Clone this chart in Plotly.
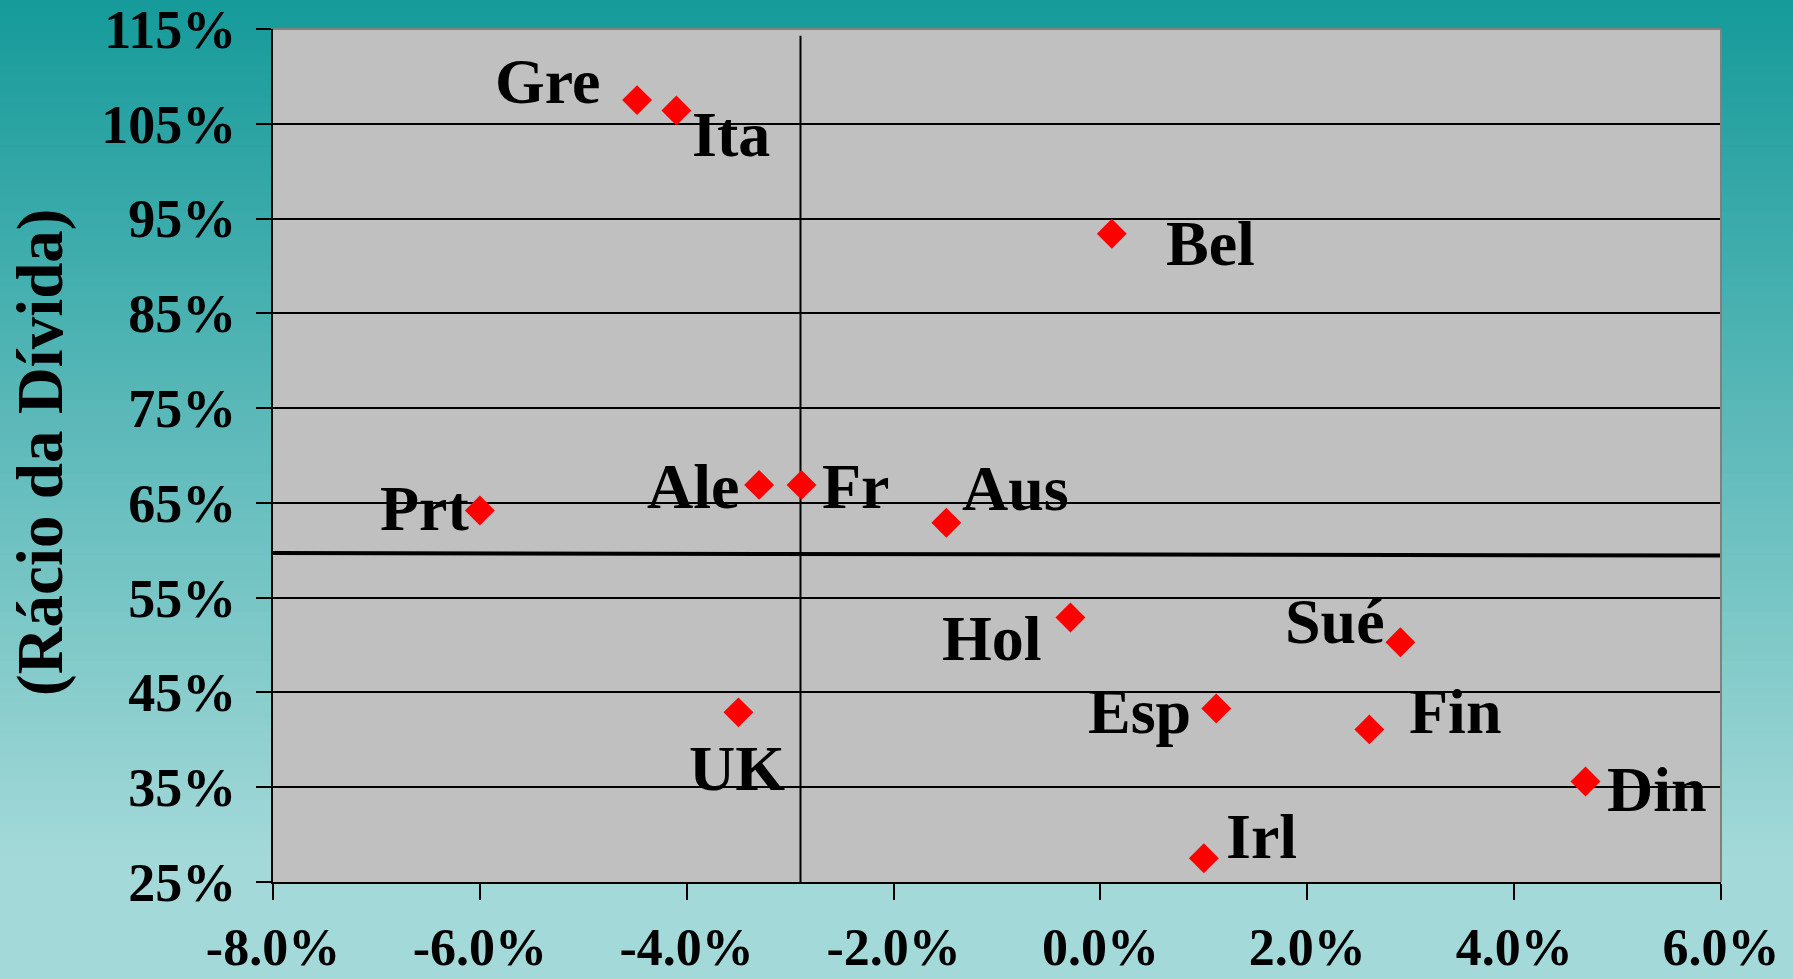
import plotly.graph_objects as go

# ---------------- data ----------------
countries = ["Gre", "Ita", "Bel", "Prt", "Ale", "Fr", "Aus", "Hol", "Sué", "UK", "Esp", "Fin", "Din", "Irl"]
saldo = [-4.48, -4.10, 0.11, -6.00, -3.30, -2.89, -1.49, -0.29, 2.90, -3.50, 1.12, 2.60, 4.69, 1.00]
divida = [107.5, 106.4, 93.4, 64.2, 66.9, 66.9, 62.9, 52.9, 50.3, 42.9, 43.3, 41.1, 35.6, 27.5]

ref_v_x = [-2.9, -2.9]
ref_v_y = [25.0, 114.3]
ref_h_x = [-8.0, 6.0]
ref_h_y = [59.7, 59.45]

x_tick_vals = [-8, -6, -4, -2, 0, 2, 4, 6]
x_tick_text = ["-8.0%", "-6.0%", "-4.0%", "-2.0%", "0.0%", "2.0%", "4.0%", "6.0%"]
y_tick_vals = [25, 35, 45, 55, 65, 75, 85, 95, 105, 115]
y_tick_text = ["25%", "35%", "45%", "55%", "65%", "75%", "85%", "95%", "105%", "115%"]
y_title = "(Rácio da Dívida)"

# ---------------- style ----------------
W, H = 1793, 979
L, R, T, B = 273, 72, 29, 97
PW, PH = W - L - R, H - T - B
FONT = "Liberation Serif, Times New Roman, serif"

# label offsets in pixels (dx right, dy up)
label_offsets = {
    "Gre": (-90, 19), "Ita": (55, -24), "Bel": (99, -10), "Prt": (-55, 2),
    "Ale": (-66, -2), "Fr": (54, -2), "Aus": (69, 34), "Hol": (-78, -21),
    "Sué": (-65, 21), "UK": (-1, -56), "Esp": (-77, -3), "Fin": (86, 18),
    "Din": (71, -8), "Irl": (58, 22),
}

def px2paper_x(px):
    return (px - L) / PW

def px2paper_y(py):
    return (H - B - py) / PH

top_c = (22, 154, 154)
bot_c = (164, 217, 217)
shapes = []
n = 120
for i in range(n):
    y0 = H * i / n
    y1 = H * (i + 1) / n + 1
    if i == 0:
        y0 = -20
    if i == n - 1:
        y1 = H + 20
    t = min(1.0, max(0.0, ((y0 + y1) / 2) / (H * 0.88)))
    c = tuple(int(round(top_c[k] + (bot_c[k] - top_c[k]) * t)) for k in range(3))
    shapes.append(dict(type="rect", xref="paper", yref="paper", layer="below",
                       x0=px2paper_x(-20), x1=px2paper_x(W + 20),
                       y0=px2paper_y(y1), y1=px2paper_y(y0),
                       line=dict(width=0), fillcolor="rgb(%d,%d,%d)" % c))
# plot area fill
shapes.append(dict(type="rect", xref="paper", yref="paper", layer="below",
                   x0=0, x1=1, y0=0, y1=1, line=dict(width=0), fillcolor="#c0c0c0"))
# gray border top / right
shapes.append(dict(type="line", xref="paper", yref="paper", layer="above",
                   x0=0, x1=1, y0=1, y1=1, line=dict(color="#808080", width=2)))
shapes.append(dict(type="line", xref="paper", yref="paper", layer="above",
                   x0=1, x1=1, y0=0, y1=1, line=dict(color="#808080", width=2)))

fig = go.Figure()
fig.add_trace(go.Scatter(x=ref_v_x, y=ref_v_y, mode="lines",
                         line=dict(color="black", width=2), showlegend=False, hoverinfo="skip"))
fig.add_trace(go.Scatter(x=ref_h_x, y=ref_h_y, mode="lines",
                         line=dict(color="black", width=4), showlegend=False, hoverinfo="skip"))
fig.add_trace(go.Scatter(x=saldo, y=divida, mode="markers", text=countries,
                         marker=dict(symbol="diamond", size=23, color="#ff0000",
                                     line=dict(width=0)),
                         showlegend=False, cliponaxis=False))

annotations = []
for c, xv, yv in zip(countries, saldo, divida):
    dx, dy = label_offsets[c]
    annotations.append(dict(x=xv, y=yv, xref="x", yref="y", text="<b>%s</b>" % c,
                            showarrow=False, xshift=dx, yshift=dy,
                            xanchor="center", yanchor="middle",
                            font=dict(family=FONT, size=64, color="black")))
annotations.append(dict(x=px2paper_x(40), y=px2paper_y(452), xref="paper", yref="paper",
                        text="<b>%s</b>" % y_title, textangle=-90, showarrow=False,
                        xanchor="center", yanchor="middle",
                        font=dict(family=FONT, size=65, color="black")))

fig.update_layout(
    width=W, height=H,
    margin=dict(l=L, r=R, t=T, b=B, pad=0, autoexpand=False),
    paper_bgcolor="#7cc0c0",
    plot_bgcolor="#c0c0c0",
    shapes=shapes,
    annotations=annotations,
    font=dict(family=FONT, color="black"),
    xaxis=dict(range=[-8, 6], tickvals=x_tick_vals, ticktext=x_tick_text, automargin=False,
               showgrid=False, zeroline=False, showline=True, linecolor="black", linewidth=2,
               ticks="outside", ticklen=16, tickwidth=2, tickcolor="black",
               tickfont=dict(family=FONT, size=52, color="black", weight="bold"),
               ticklabelstandoff=3, ticklabeloverflow="allow", fixedrange=True),
    yaxis=dict(range=[25, 115], tickvals=y_tick_vals, ticktext=y_tick_text, automargin=False,
               showgrid=True, gridcolor="black", gridwidth=2, zeroline=False,
               showline=True, linecolor="black", linewidth=2,
               ticks="outside", ticklen=15, tickwidth=2, tickcolor="black",
               tickfont=dict(family=FONT, size=54, color="black", weight="bold"),
               ticklabelstandoff=9, ticklabeloverflow="allow", fixedrange=True),
)

fig.write_html(
    "out.html",
    config={"displayModeBar": False},
    post_script="document.body.style.margin='0px';document.body.style.padding='0px';"
                "document.body.style.overflow='hidden';",
)
